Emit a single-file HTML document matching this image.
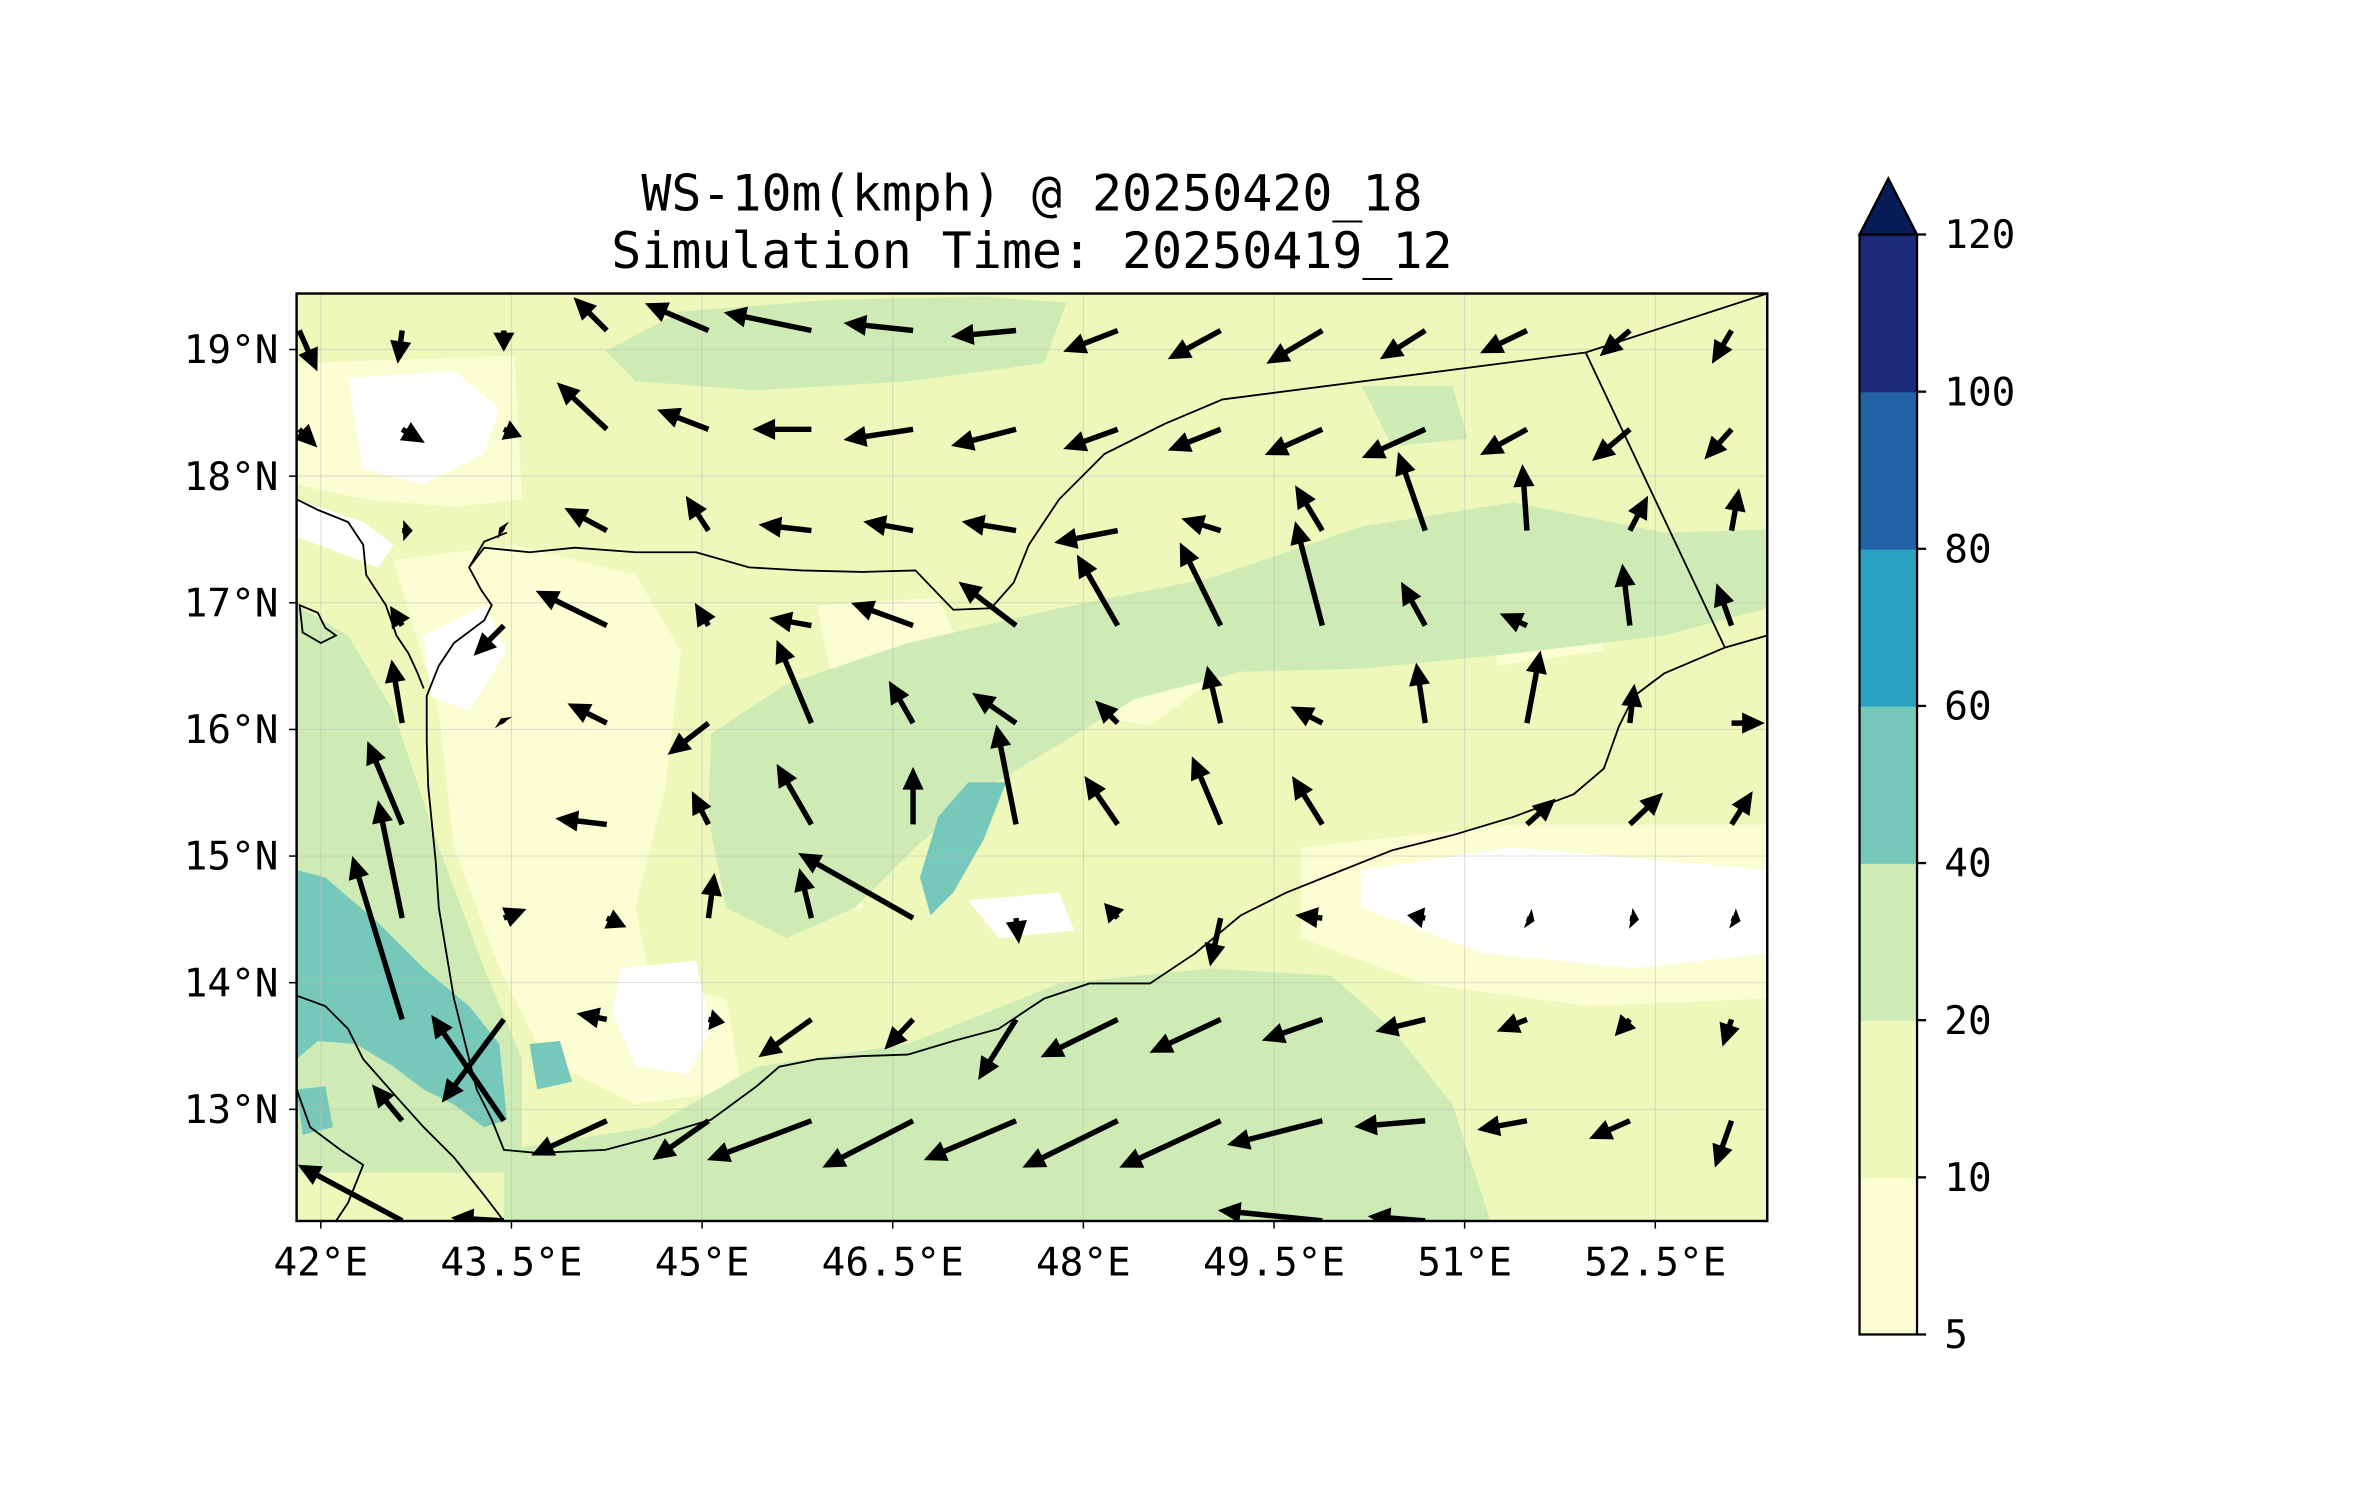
<!DOCTYPE html>
<html><head><meta charset="utf-8">
<style>
html,body{margin:0;padding:0;background:#fff;}
svg{display:block;}
text{font-family:"DejaVu Sans Mono","Liberation Mono",monospace;fill:#000;}
</style></head>
<body>
<svg id="fig" width="2371" height="1500" viewBox="0 0 1567 991.4" xmlns="http://www.w3.org/2000/svg">
<defs><clipPath id="mapclip"><rect x="196" y="194" width="972" height="613"/></clipPath></defs>
<text x="682" y="139" font-size="33" text-anchor="middle">WS-10m(kmph) @ 20250420_18</text>
<text x="682" y="177" font-size="33" text-anchor="middle">Simulation Time: 20250419_12</text>
<g id="map" clip-path="url(#mapclip)">
 <rect x="196" y="194" width="972" height="613" fill="#eff8bb"/>
 <g fill="#fbfdd3">
  <path d="M196,240 L340,235 L345,330 L300,335 L240,330 L196,320Z"/>
  <path d="M260,370 L340,360 L420,380 L450,430 L440,520 L420,600 L430,650 L480,660 L490,720 L420,730 L360,700 L330,640 L300,560 L290,470Z"/>
  <path d="M860,560 L1000,545 L1168,545 L1168,660 L1050,665 L940,650 L860,620Z"/>
  <path d="M540,400 L620,395 L640,440 L590,460 L550,450Z"/>
  <path d="M700,440 L760,420 L800,450 L760,480 L710,470Z"/>
  <path d="M500,560 L560,555 L570,600 L520,610Z"/>
  <path d="M980,400 L1050,395 L1060,430 L990,440Z"/>
 </g>
 <g fill="#ffffff">
  <path d="M230,250 L300,245 L330,270 L320,300 L280,320 L240,310Z"/>
  <path d="M196,330 L240,345 L260,360 L250,375 L210,360 L196,355Z"/>
  <path d="M280,420 L320,400 L335,430 L310,470 L285,460Z"/>
  <path d="M410,640 L460,635 L470,680 L455,710 L420,705 L405,670Z"/>
  <path d="M900,575 L1000,560 L1168,575 L1168,630 L1080,640 L980,630 L900,600Z"/>
  <path d="M640,595 L700,590 L710,615 L660,620Z"/>
 </g>
 <g fill="#cfebb5">
  <path d="M400,232 L450,206 L550,198 L650,196 L705,200 L690,240 L600,252 L500,258 L420,252Z"/>
  <path d="M470,485 L520,452 L600,425 L700,402 L800,382 L900,348 L1000,332 L1100,352 L1168,350 L1168,402 L1100,420 L1000,432 L900,442 L820,444 L750,462 L700,492 L650,522 L605,560 L565,600 L520,620 L480,600 L468,540Z"/>
  <path d="M196,400 L230,420 L260,470 L290,560 L320,640 L345,700 L345,775 L196,775Z"/>
  <path d="M333,807 L333,760 L430,745 L500,705 L600,690 L700,650 L800,640 L880,645 L920,680 L960,730 L985,807Z"/>
  <path d="M900,255 L960,255 L970,290 L920,295Z"/>
 </g>
 <g fill="#76c8ba">
  <path d="M196,575 L215,580 L250,610 L280,640 L310,665 L330,690 L335,740 L320,745 L300,730 L280,720 L260,705 L235,690 L210,688 L196,700Z"/>
  <path d="M640,517 L665,517 L650,555 L630,590 L615,605 L608,580 L620,540Z"/>
  <path d="M350,690 L370,688 L378,715 L355,720Z"/>
  <path d="M196,720 L215,718 L220,745 L200,750Z"/>
 </g>
 <g id="grid" stroke="#bbb" stroke-opacity="0.45" stroke-width="0.8"></g>
 <g fill="none" stroke="#000" stroke-width="1.2">
  <path d="M1168,420 L1140,428 L1100,445 L1080,460 L1070,480 L1060,508 L1040,525 L1000,540 L960,552 L920,562 L880,578 L850,590 L820,605 L790,630 L760,650 L720,650 L690,660 L660,680 L630,688 L600,697 L570,698 L540,700 L515,705 L500,718 L470,740 L430,752 L400,760 L355,762 L333,760 L325,740 L315,720 L310,700 L305,680 L300,660 L295,630 L290,600 L288,570 L285,540 L283,520 L282,490 L282,460 L290,440 L300,425 L320,410 L325,400 L318,390 L310,375 L320,358 L335,352"/>
  <path d="M196,330 L210,337 L230,345 L240,360 L242,380 L255,400 L262,420 L270,432 L276,445 L280,455"/>
  <path d="M310,375 L320,362 L350,365 L380,362 L420,365 L460,365 L495,375 L530,377 L570,378 L605,377 L630,403 L655,402 L670,385 L680,360 L700,330 L730,300 L770,280 L808,264 L1048,233 L1168,194"/>
  <path d="M1048,233 L1140,428"/>
  <path d="M196,658 L215,665 L230,680 L240,700 L262,725 L280,745 L300,765 L320,790 L333,807"/>
  <path d="M196,720 L205,745 L225,760 L240,770 L230,795 L222,807"/>
  <path d="M198,400 L210,405 L215,415 L222,420 L212,425 L200,418Z"/>
 </g>
 <g id="arrows" fill="#000"></g>
</g>
<rect x="196" y="194" width="972" height="613" fill="none" stroke="#000" stroke-width="1.6"/>
<g id="axes"></g>
<g id="cbar"></g>
</svg>
<script>
// --- data ---
const lons = [41.83, 42.64, 43.44, 44.25, 45.05, 45.86, 46.66, 47.47, 48.27, 49.08, 49.88, 50.69, 51.49, 52.30, 53.10];
const lats = [19.15, 18.37, 17.57, 16.82, 16.05, 15.25, 14.51, 13.71, 12.91, 12.12];
const uRows = [
 [12,-3,0,-22,-42,-58,-46,-43,-36,-35,-37,-30,-31,-20,-13],
 [12,15,12,-33,-34,-39,-46,-43,-36,-35,-38,-42,-31,-25,-18],
 [0,7,-3,-28,-15,-35,-33,-36,-42,-26,-18,-18,-3,12,5],
 [0,-8,-20,-47,-9,-28,-41,-38,-27,-27,-18,-16,-18,-5,-10],
 [0,-7,-2,-26,-27,-23,-16,-29,-15,-9,-21,-6,9,3,22],
 [0,-23,0,-34,-11,-23,0,-13,-22,-19,-20,0,19,22,14],
 [0,-16,15,13,4,-8,-76,2,-9,-7,-18,-12,5,6,6],
 [0,-33,-41,-20,11,-35,-19,-25,-51,-47,-40,-33,-20,-10,-6],
 [0,-20,-48,-50,-37,-69,-60,-61,-63,-67,-63,-47,-33,-27,-11],
 [0,-69,-35,0,0,0,0,0,0,0,-69,-38,0,0,0]
];
const vRows = [
 [-27,-22,-14,22,18,12,5,-4,-14,-19,-22,-19,-15,-17,-22],
 [-12,-9,-5,31,13,0,-7,-11,-13,-14,-17,-19,-17,-21,-20],
 [0,0,2,15,23,4,6,6,-8,8,30,52,44,23,28],
 [0,13,-20,23,15,5,15,29,47,55,69,29,8,41,28],
 [0,42,3,13,-21,55,28,20,15,38,11,40,48,26,0],
 [0,55,0,4,22,40,38,66,32,45,32,0,17,21,22],
 [0,78,6,-6,30,33,43,-17,10,-32,2,2,-2,-1,-2],
 [0,108,-55,4,-2,-25,-20,-40,-25,-22,-14,-8,-8,-11,-18],
 [0,24,70,-23,-26,-26,-31,-26,-31,-31,-16,-4,-6,-12,-31],
 [0,37,2,0,0,0,0,0,0,0,7,3,0,0,0]
];
const lonTicks = [42, 43.5, 45, 46.5, 48, 49.5, 51, 52.5];
const lonTickLabels = ["42°E","43.5°E","45°E","46.5°E","48°E","49.5°E","51°E","52.5°E"];
const latTicks = [19, 18, 17, 16, 15, 14, 13];
const latTickLabels = ["19°N","18°N","17°N","16°N","15°N","14°N","13°N"];
const cbarLevels = [5, 10, 20, 40, 60, 80, 100, 120];
const cbarColors = ["#fbfed2","#eff8bb","#cfebb5","#76c8ba","#2ba2c2","#2263a7","#1d2a7c"];

// --- axis functions ---
const NS = "http://www.w3.org/2000/svg";
function xOf(lon){ return 212 + (lon - 42) * 84; }
function yOf(lat){ return 231 + (19 - lat) * 83.7; }
const SCALE = 1.0;
function mk(tag, attrs, parent){ const e = document.createElementNS(NS, tag); for (const k in attrs) e.setAttribute(k, attrs[k]); parent.appendChild(e); return e; }

const grid = document.getElementById('grid');
lonTicks.forEach(l => { const ln = mk('line', {x1:xOf(l), x2:xOf(l), y1:194, y2:807}, grid);
 
  });
latTicks.forEach(l => { const ln = mk('line', {x1:196, x2:1168, y1:yOf(l), y2:yOf(l)}, grid);
 
  });

const ag = document.getElementById('arrows');
for (let r = 0; r < lats.length; r++) {
 for (let c = 0; c < lons.length; c++) {
  const u = uRows[r][c], v = vRows[r][c];
  const L = Math.hypot(u, v) * SCALE;
  if (L < 0.5) continue;
  const tx = xOf(lons[c]), ty = yOf(lats[r]);
  const ang = Math.atan2(-v, u) * 180 / Math.PI;
  const sw = 1.8, hw = 7, hl = Math.min(15, L * 0.9);
  const shaft = Math.max(0, L - hl);
  const pts = `0,${-sw} ${shaft},${-sw} ${shaft},${-hw} ${L},0 ${shaft},${hw} ${shaft},${sw} 0,${sw}`;
  const p = mk('polygon', {points: pts, transform: `translate(${tx},${ty}) rotate(${ang})`}, ag);
  
  
 }
}

const ax = document.getElementById('axes');
lonTicks.forEach((l, i) => {
 const t = mk('line', {x1:xOf(l), x2:xOf(l), y1:807, y2:812, stroke:'#000', 'stroke-width':1}, ax);
 
 
 const tx = mk('text', {x:xOf(l), y:843, 'font-size':26, 'text-anchor':'middle'}, ax);
 tx.textContent = lonTickLabels[i];
 
 
});
latTicks.forEach((l, i) => {
 const t = mk('line', {x1:191, x2:196, y1:yOf(l), y2:yOf(l), stroke:'#000', 'stroke-width':1}, ax);
 
 
 const tx = mk('text', {x:184, y:yOf(l) + 9, 'font-size':26, 'text-anchor':'end'}, ax);
 tx.textContent = latTickLabels[i];
 
 
});

const cb = document.getElementById('cbar');
const cbTop = 155, cbBot = 882, cbL = 1229, cbR = 1267;
const step = (cbBot - cbTop) / (cbarLevels.length - 1);
function cbY(i){ return cbBot - i * step; }
for (let i = 0; i < cbarColors.length; i++) {
 const rc = mk('rect', {x:cbL, y:cbY(i+1), width:cbR-cbL, height:step+0.5, fill:cbarColors[i]}, cb);
 
 
}
const tri = mk('polygon', {points:`${cbL},${cbTop} ${(cbL+cbR)/2},${cbTop-37} ${cbR},${cbTop}`, fill:'#081d58', stroke:'#000', 'stroke-width':1.5}, cb);


const fr = mk('rect', {x:cbL, y:cbTop, width:cbR-cbL, height:cbBot-cbTop, fill:'none', stroke:'#000', 'stroke-width':1.5}, cb);


cbarLevels.forEach((lv, i) => {
 const t = mk('line', {x1:cbR, x2:cbR+6, y1:cbY(i), y2:cbY(i), stroke:'#000', 'stroke-width':1.5}, cb);
 
 
 const tx = mk('text', {x:cbR+18, y:cbY(i)+9, 'font-size':26}, cb);
 tx.textContent = String(lv);
 
 
});
</script>
</body></html>
